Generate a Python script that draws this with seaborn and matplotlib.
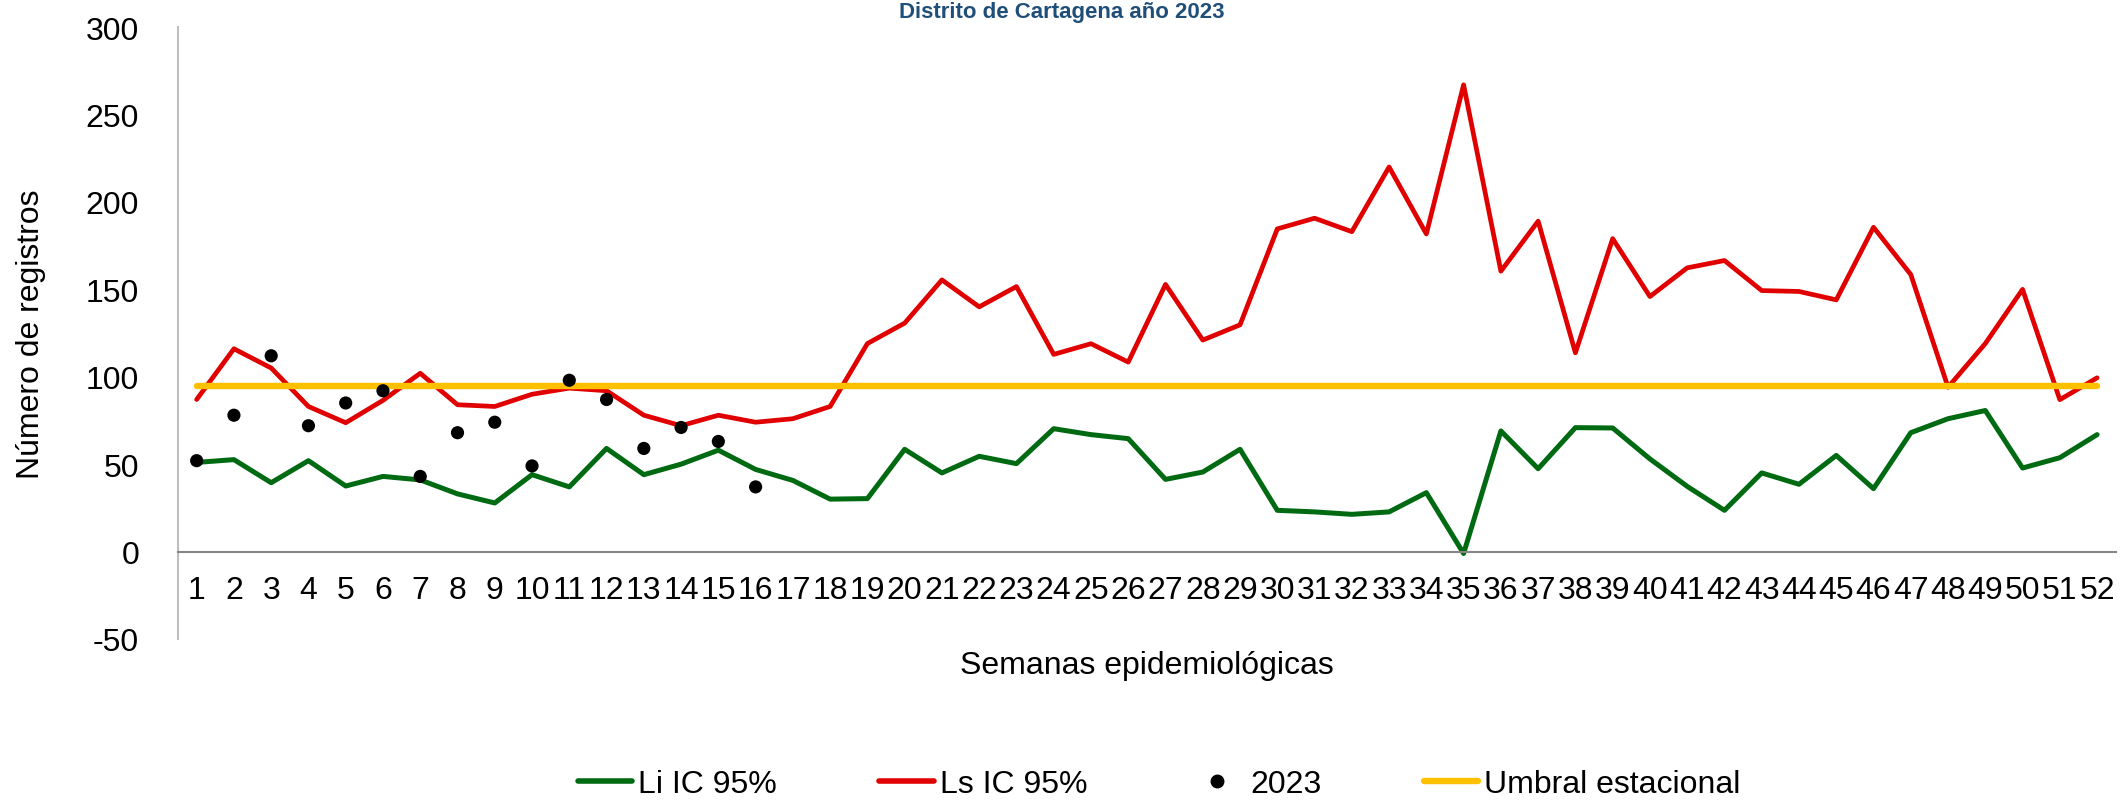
import numpy as np
import pandas as pd
import seaborn as sns
import matplotlib.pyplot as plt
from matplotlib.lines import Line2D

# Weekly values
semanas = list(range(1, 53))
li_ic95 = [51, 52.6, 39.4, 52, 37.5, 43, 41, 33, 27.8, 44, 37, 59, 44, 50, 58, 47, 40.7, 30,
           30.3, 58.5, 45, 54.5, 50.3, 70.3, 66.9, 64.6, 41.3, 45.5, 58.5, 23.6, 22.7, 21.3, 22.7, 33.7, -1.1,
           69, 47.4, 70.9, 70.7, 53, 37.3, 23.6, 45, 38.5, 55, 36, 68, 76, 80.7, 47.8, 53.7, 66.9]
ls_ic95 = [87, 116, 105, 83, 73.7, 86.5, 102, 84, 83, 90, 93.5, 92, 78, 72, 78, 74, 76, 83,
           119, 130.7, 155.4, 140, 151.6, 112.8, 118.9, 108.4, 152.8, 121, 129.7, 184.6, 190.7, 183, 220, 181.7, 267,
           160.4, 189, 113.7, 179, 145.9, 162.3, 166.5, 149.3, 148.8, 144, 185.5, 158.5, 94, 119, 150, 86.9, 99.4]
semanas_2023 = list(range(1, 17))
casos_2023 = [52, 78, 112, 72, 85, 92, 43, 68, 74, 49, 98, 87, 59, 71, 63, 37]
umbral = [95] * 52

df = pd.DataFrame({'Semana': semanas, 'Li': li_ic95, 'Ls': ls_ic95, 'Umbral': umbral})
df23 = pd.DataFrame({'Semana': semanas_2023, 'Casos': casos_2023})

sns.set_style("white")
plt.rcParams['font.family'] = ['Liberation Sans', 'DejaVu Sans']
plt.rcParams['axes.unicode_minus'] = False
plt.rcParams['text.color'] = 'black'
plt.rcParams['axes.labelcolor'] = 'black'
plt.rcParams['xtick.color'] = 'black'
plt.rcParams['ytick.color'] = 'black'

fig = plt.figure(figsize=(21.27, 8.04), dpi=100)
ax = fig.add_axes([0.0837, 0.204, 0.911, 0.761])

verde = '#006A12'
rojo = '#E00000'
amarillo = '#FFC000'

sns.lineplot(data=df, x='Semana', y='Li', color=verde, lw=3.6, ax=ax)
sns.lineplot(data=df, x='Semana', y='Ls', color=rojo, lw=3.4, ax=ax)
sns.lineplot(data=df, x='Semana', y='Umbral', color=amarillo, lw=4.6, ax=ax,
             solid_capstyle='round')
sns.scatterplot(data=df23, x='Semana', y='Casos', color='black', s=90, ax=ax, zorder=5,
                edgecolor='none')

ax.set_xlim(0.5, 52.5)
ax.set_ylim(-50, 300)
ax.set_yticks(range(-50, 301, 50))
ax.set_xticks(semanas)
ax.set_xticklabels([str(s) for s in semanas])

for s in ['top', 'right']:
    ax.spines[s].set_visible(False)
ax.spines['left'].set_color('#BFBFBF')
ax.spines['left'].set_linewidth(1.5)
ax.spines['bottom'].set_position(('data', 0))
ax.spines['bottom'].set_color('#868686')
ax.spines['bottom'].set_linewidth(1.5)
ax.tick_params(axis='both', length=0, labelsize=23, labelcolor='black')
ax.tick_params(axis='x', pad=17)
ax.tick_params(axis='y', pad=28)

ax.set_xlabel("Semanas epidemiológicas", fontsize=23, color='black')
ax.xaxis.set_label_coords(0.5, -0.018)
ax.set_ylabel("Número de registros", fontsize=23, color='black')
ax.yaxis.set_label_coords(-0.068, 0.5)

fig.text(0.499, 0.978, "Distrito de Cartagena año 2023", ha='center', va='baseline',
         fontsize=16, fontweight='bold', color='#1F4E79')

handles = [Line2D([], [], color=verde, lw=4),
           Line2D([], [], color=rojo, lw=4),
           Line2D([], [], color='black', marker='o', ls='none', markersize=9),
           Line2D([], [], color=amarillo, lw=4.6)]
labels = ["Li IC 95%", "Ls IC 95%", "2023", "Umbral estacional"]
leg = fig.legend(handles, labels, loc='center', bbox_to_anchor=(0.545, 0.024), ncol=4,
                 frameon=False, fontsize=23, handlelength=1.7, handletextpad=0.2,
                 columnspacing=3.2)
for t in leg.get_texts():
    t.set_color('black')

fig.savefig("out.png", dpi=100)
